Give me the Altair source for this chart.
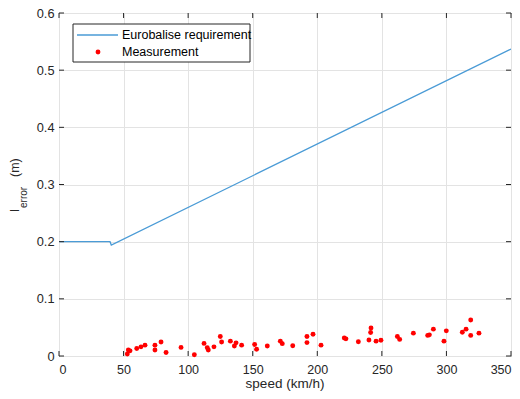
import altair as alt
import pandas as pd

# Eurobalise requirement curve
req_speed = [0, 39.5, 40.5, 350]
req_error = [0.2, 0.2, 0.194, 0.537]

# Measurements
meas_speed = [52.9, 53.7, 55.0, 60.2, 63.5, 66.6, 74.3, 74.3, 79.0, 82.9, 94.5, 104.8,
              112.3, 114.8, 115.6, 120.0, 124.9, 125.9, 132.7, 135.8, 137.1, 141.4,
              151.5, 153.0, 161.3, 171.4, 172.9, 181.0, 192.0, 192.0, 196.7, 202.9,
              220.9, 222.2, 231.8, 240.0, 241.3, 241.6, 245.5, 249.3, 262.0, 263.8,
              274.4, 285.5, 286.8, 289.9, 298.1, 299.9, 312.3, 315.2, 318.8, 318.8, 325.2]
meas_error = [0.0035, 0.0105, 0.009, 0.013, 0.016, 0.019, 0.019, 0.0105, 0.0246, 0.006, 0.015, 0.0023,
              0.022, 0.0146, 0.0105, 0.016, 0.034, 0.0246, 0.026, 0.0175, 0.023, 0.019,
              0.020, 0.0117, 0.0175, 0.026, 0.0216, 0.018, 0.034, 0.0234, 0.038, 0.019,
              0.0316, 0.030, 0.025, 0.028, 0.041, 0.049, 0.026, 0.0275, 0.034, 0.029,
              0.040, 0.036, 0.037, 0.047, 0.026, 0.044, 0.0415, 0.047, 0.063, 0.036, 0.040]

x_ticks = [0, 50, 100, 150, 200, 250, 300, 350]
y_ticks = [0, 0.1, 0.2, 0.3, 0.4, 0.5, 0.6]

W, H = 452, 343
TXT = "#262626"
FONT = "Liberation Sans"

req_df = pd.DataFrame({"speed": req_speed, "err": req_error})
meas_df = pd.DataFrame({"speed": meas_speed, "err": meas_error})
xt_df = pd.DataFrame({"speed": x_ticks})
yt_df = pd.DataFrame({"err": y_ticks})

xscale = alt.Scale(domain=[0, 350], nice=False, zero=False)
yscale = alt.Scale(domain=[0, 0.6], nice=False, zero=False)

xaxis = alt.Axis(values=x_ticks, grid=True, gridColor="#e3e3e3", ticks=False, domain=False,
                 labelPadding=7, labelFontSize=12.5, labelColor=TXT, labelFont=FONT,
                 title=None)
yaxis = alt.Axis(values=y_ticks, grid=True, gridColor="#e3e3e3", ticks=False, domain=False,
                 labelPadding=5, labelFontSize=12.8, labelColor=TXT, labelFont=FONT,
                 title=None, labelExpr="datum.value == 0 ? '0' : format(datum.value, '.1f')")

line = alt.Chart(req_df).mark_line(color="#4a9bd6", strokeWidth=1.3, clip=True).encode(
    x=alt.X("speed:Q", scale=xscale, axis=xaxis),
    y=alt.Y("err:Q", scale=yscale, axis=yaxis),
)
pts = alt.Chart(meas_df).mark_circle(color="#ff0000", size=24, opacity=1).encode(
    x=alt.X("speed:Q", scale=xscale),
    y=alt.Y("err:Q", scale=yscale),
)

tick_style = dict(color=TXT, strokeWidth=1)
bt = alt.Chart(xt_df).mark_rule(**tick_style).encode(x=alt.X("speed:Q", scale=xscale), y=alt.value(H), y2=alt.value(H - 5))
tt = alt.Chart(xt_df).mark_rule(**tick_style).encode(x=alt.X("speed:Q", scale=xscale), y=alt.value(0), y2=alt.value(5))
lt = alt.Chart(yt_df).mark_rule(**tick_style).encode(y=alt.Y("err:Q", scale=yscale), x=alt.value(0), x2=alt.value(5))
rt = alt.Chart(yt_df).mark_rule(**tick_style).encode(y=alt.Y("err:Q", scale=yscale), x=alt.value(W), x2=alt.value(W - 5))

one = pd.DataFrame({"a": [0]})
leg_box = alt.Chart(one).mark_rect(fill="white", stroke=TXT, strokeWidth=1).encode(
    x=alt.value(14), x2=alt.value(191), y=alt.value(11), y2=alt.value(49))
leg_line = alt.Chart(one).mark_rule(color="#4a9bd6", strokeWidth=1.3).encode(
    x=alt.value(18), x2=alt.value(59), y=alt.value(22))
leg_dot = alt.Chart(one).mark_circle(color="#ff0000", size=24, opacity=1).encode(
    x=alt.value(39), y=alt.value(39))
leg_t1 = alt.Chart(one).mark_text(text="Eurobalise requirement", align="left", baseline="middle",
                                  fontSize=12.5, font=FONT, color="#000000").encode(x=alt.value(63), y=alt.value(22))
leg_t2 = alt.Chart(one).mark_text(text="Measurement", align="left", baseline="middle",
                                  fontSize=12.5, font=FONT, color="#000000").encode(x=alt.value(63), y=alt.value(39))

yt_l = alt.Chart(one).mark_text(text="l", angle=270, align="left", baseline="alphabetic",
                                fontSize=13.5, font=FONT, color=TXT).encode(x=alt.value(-40), y=alt.value(199))
yt_e = alt.Chart(one).mark_text(text="error", angle=270, align="left", baseline="alphabetic",
                                fontSize=10, font=FONT, color=TXT).encode(x=alt.value(-32), y=alt.value(195))
yt_m = alt.Chart(one).mark_text(text="(m)", angle=270, align="left", baseline="alphabetic",
                                fontSize=12.5, font=FONT, color=TXT).encode(x=alt.value(-40), y=alt.value(164))

x_title = alt.Chart(one).mark_text(text="speed (km/h)", align="center", baseline="alphabetic",
                                   fontSize=13.5, font=FONT, color=TXT).encode(x=alt.value(W / 2), y=alt.value(375))

chart = alt.layer(line, pts, bt, tt, lt, rt, leg_box, leg_line, leg_dot, leg_t1, leg_t2,
                  yt_l, yt_e, yt_m, x_title).properties(
    width=W, height=H,
    autosize=alt.AutoSizeParams(type="none"),
    padding={"left": 51, "top": 5, "right": 1, "bottom": 35},
    background="white",
).configure_view(stroke=TXT, strokeWidth=1)

chart.save("out.html", embed_options={"renderer": "svg", "actions": False})
